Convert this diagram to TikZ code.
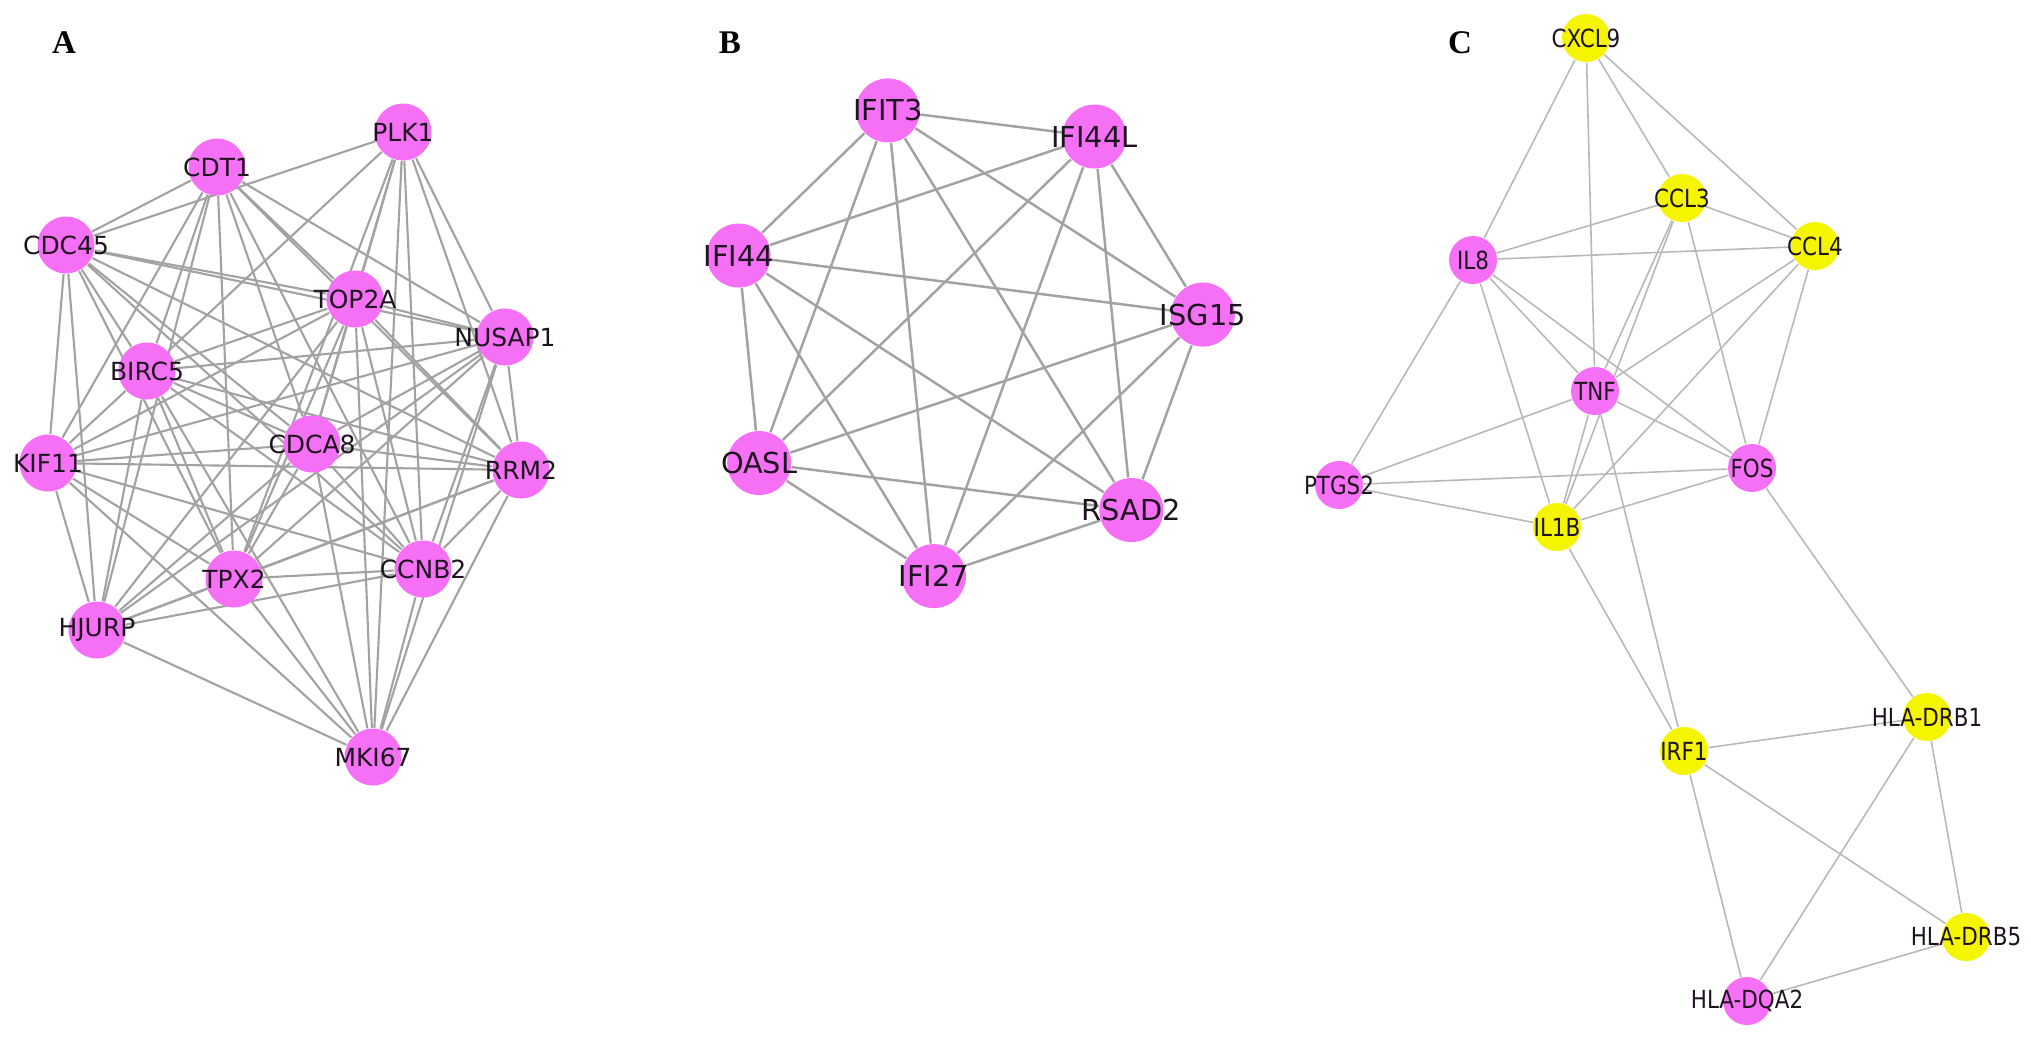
\documentclass[tikz,border=0pt]{standalone}
\usepackage{fontspec}
\setmainfont{Liberation Serif}
\newfontfamily\genefont{DejaVu Sans}
\newfontfamily\genefontnarrow[FakeStretch=0.86]{DejaVu Sans}
\usepackage{tikz}
\usetikzlibrary{backgrounds}
\definecolor{genePink}  {HTML}{F570F5}
\definecolor{geneYellow}{HTML}{F6F500}
\definecolor{edgeGray}  {HTML}{A2A2A2}
\definecolor{edgeLight} {HTML}{B8B8B8}
\definecolor{labelInk}  {HTML}{1E1420}

\begin{document}
\begin{tikzpicture}[x=0.1mm, y=-0.1mm,
    labA/.style={text=labelInk, font=\genefont\fontsize{7.1}{8}\selectfont, inner sep=0pt},
    labB/.style={text=labelInk, font=\genefont\fontsize{8.2}{9}\selectfont, inner sep=0pt},
    labC/.style={text=labelInk, font=\genefontnarrow\fontsize{7.1}{8}\selectfont, inner sep=0pt},
    geneA/.style={circle, fill=genePink, minimum size=5.7mm, inner sep=0pt, label={[labA]center:#1}},
    geneB/.style={circle, fill=genePink, minimum size=6.4mm, inner sep=0pt, label={[labB]center:#1}},
    geneC/.style={circle, minimum size=4.8mm, inner sep=0pt, label={[labC]center:#1}},
    linkA/.style={draw=edgeGray, line width=0.6pt},
    linkB/.style={draw=edgeGray, line width=0.7pt},
    linkC/.style={draw=edgeLight, line width=0.45pt},
    panel/.style={font=\bfseries\fontsize{9.4}{10}\selectfont, anchor=center, inner sep=0pt}]
  \useasboundingbox (0,0) rectangle (2031,1037);

  % panel labels
  \node[panel] (labelA) at (64,43) {A};
  \node[panel] (labelB) at (730,43) {B};
  \node[panel] (labelC) at (1460,43) {C};

  % ---- A: mitotic cluster
  \foreach \name/\x/\y/\txt in {plk1/403/132/PLK1, cdt1/217/167/CDT1, cdc45/66/245/CDC45,
      top2a/355/299/TOP2A, nusap1/505/337/NUSAP1, birc5/147/371/BIRC5, kif11/48/463/KIF11,
      cdca8/312/444/CDCA8, rrm2/521/470/RRM2, tpx2/234/579/TPX2, ccnb2/423/569/CCNB2,
      hjurp/97/630/HJURP, mki67/373/757/MKI67}{
    \node[geneA=\txt] (\name) at (\x,\y) {};
  }
  \begin{scope}[on background layer]
    \foreach \a/\b in {plk1/cdc45, plk1/birc5, plk1/top2a, plk1/nusap1, plk1/cdca8, plk1/rrm2,
        plk1/tpx2, plk1/ccnb2, plk1/mki67,
        cdt1/cdc45, cdt1/top2a, cdt1/nusap1, cdt1/birc5, cdt1/kif11, cdt1/cdca8, cdt1/rrm2,
        cdt1/tpx2, cdt1/ccnb2, cdt1/hjurp,
        cdc45/top2a, cdc45/nusap1, cdc45/birc5, cdc45/kif11, cdc45/cdca8, cdc45/rrm2,
        cdc45/tpx2, cdc45/ccnb2, cdc45/hjurp,
        top2a/nusap1, top2a/birc5, top2a/kif11, top2a/cdca8, top2a/rrm2, top2a/tpx2,
        top2a/ccnb2, top2a/hjurp, top2a/mki67,
        nusap1/birc5, nusap1/kif11, nusap1/cdca8, nusap1/rrm2, nusap1/tpx2, nusap1/ccnb2,
        nusap1/hjurp, nusap1/mki67,
        birc5/kif11, birc5/cdca8, birc5/rrm2, birc5/tpx2, birc5/ccnb2, birc5/hjurp, birc5/mki67,
        kif11/cdca8, kif11/rrm2, kif11/tpx2, kif11/ccnb2, kif11/hjurp, kif11/mki67,
        cdca8/rrm2, cdca8/tpx2, cdca8/ccnb2, cdca8/hjurp, cdca8/mki67,
        rrm2/tpx2, rrm2/ccnb2, rrm2/hjurp, rrm2/mki67,
        tpx2/ccnb2, tpx2/hjurp, tpx2/mki67,
        ccnb2/hjurp, ccnb2/mki67,
        hjurp/mki67}{
      \draw[linkA] (\a) -- (\b);
    }
  \end{scope}

  % ---- B: interferon ring
  \foreach \name/\txt/\ang in {ifit3/IFIT3/108.5, ifi44l/IFI44L/57.1, isg15/ISG15/5.6,
      rsad2/RSAD2/-45.8, ifi27/IFI27/-97.2, oasl/OASL/-148.6, ifi44/IFI44/-200.1}{
    \node[geneB=\txt] (\name) at ({964+240*cos(\ang)}, {338-240*sin(\ang)}) {};
  }
  \begin{scope}[on background layer]
    \foreach \a/\b in {ifit3/ifi44l, ifit3/isg15, ifit3/rsad2, ifit3/ifi27, ifit3/oasl, ifit3/ifi44,
        ifi44l/isg15, ifi44l/rsad2, ifi44l/ifi27, ifi44l/oasl, ifi44l/ifi44,
        isg15/rsad2, isg15/ifi27, isg15/oasl, isg15/ifi44,
        rsad2/ifi27, rsad2/oasl, rsad2/ifi44,
        ifi27/oasl, ifi27/ifi44,
        oasl/ifi44}{
      \draw[linkB] (\a) -- (\b);
    }
  \end{scope}

  % ---- C: immune cluster
  \foreach \name/\x/\y/\col/\txt in {cxcl9/1586/38/geneYellow/CXCL9, ccl3/1682/198/geneYellow/CCL3,
      ccl4/1815/246/geneYellow/CCL4, il8/1473/260/genePink/IL8, tnf/1595/391/genePink/TNF,
      fos/1752/468/genePink/FOS, ptgs2/1339/485/genePink/PTGS2, il1b/1557/527/geneYellow/IL1B,
      drb1/1927/717/geneYellow/HLA-DRB1, irf1/1684/751/geneYellow/IRF1,
      drb5/1966/937/geneYellow/HLA-DRB5, dqa2/1747/1001/genePink/HLA-DQA2}{
    \node[geneC=\txt, fill=\col] (\name) at (\x,\y) {};
  }
  \begin{scope}[on background layer]
    \foreach \a/\b in {cxcl9/il8, cxcl9/tnf, cxcl9/ccl3, cxcl9/ccl4,
        ccl3/il8, ccl3/ccl4, ccl3/tnf, ccl3/il1b, ccl3/fos,
        il8/ccl4, il8/tnf, il8/fos, il8/ptgs2, il8/il1b,
        ccl4/tnf, ccl4/il1b, ccl4/fos,
        tnf/ptgs2, tnf/fos, tnf/il1b, tnf/irf1,
        ptgs2/fos, ptgs2/il1b, fos/il1b, fos/drb1, il1b/irf1,
        irf1/drb1, irf1/drb5, irf1/dqa2,
        drb1/dqa2, drb1/drb5, drb5/dqa2}{
      \draw[linkC] (\a) -- (\b);
    }
  \end{scope}
\end{tikzpicture}
\end{document}
